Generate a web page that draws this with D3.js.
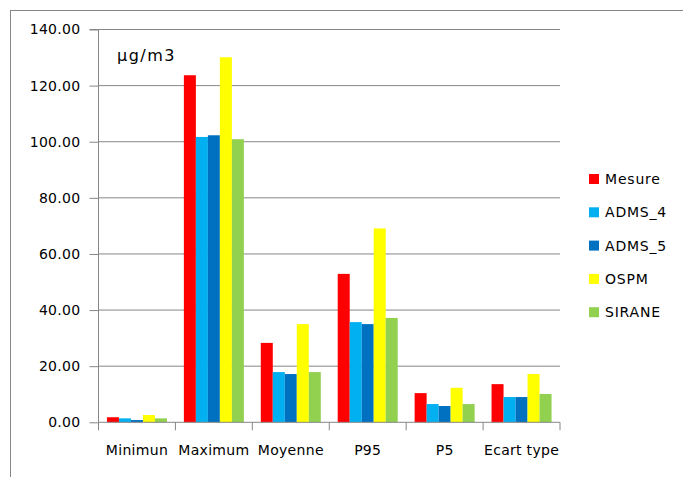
<!DOCTYPE html>
<html><head><meta charset="utf-8">
<script src="https://cdn.jsdelivr.net/npm/d3@7"></script>
<style>
body{margin:0;background:#fff;}
svg{display:block;font-family:"DejaVu Sans",sans-serif;}
</style></head>
<body><svg id="c" width="683" height="477"></svg>
<script>
const categories = ["Minimun","Maximum","Moyenne","P95","P5","Ecart type"];
const seriesNames = ["Mesure","ADMS_4","ADMS_5","OSPM","SIRANE"];
const colors = ["#ff0000","#00b0f0","#0070c0","#ffff00","#92d050"];
const mesure = [1.8,123.7,28.3,52.9,10.4,13.6];
const adms4  = [1.4,101.7,17.9,35.7,6.5,9.0];
const adms5  = [0.8,102.3,17.2,35.0,5.8,9.0];
const ospm   = [2.6,130.1,35.0,69.1,12.3,17.2];
const sirane = [1.4,100.9,17.9,37.2,6.5,10.1];
const yTicks = [0,20,40,60,80,100,120,140];
const unitLabel = "µg/m3";
const seriesValues = [mesure,adms4,adms5,ospm,sirane];

const svg = d3.select("#c");
// outer frame (only top/left visible)
svg.append("rect").attr("x",10.5).attr("y",10.5).attr("width",700).attr("height",500)
  .attr("fill","none").attr("stroke","#868686").attr("stroke-width",1);

const L=98.5, R=560, T=29.5, B=422.3;
const x0 = d3.scaleBand().domain(categories).range([L,R]).padding(0);
const x1 = d3.scaleBand().domain(seriesNames).range([x0.bandwidth()*0.11, x0.bandwidth()*0.89]).padding(0);
const y = d3.scaleLinear().domain([0,140]).range([B,T]);

// gridlines
svg.append("g").selectAll("line").data(yTicks.filter(d=>d>0)).join("line")
  .attr("x1",L).attr("x2",R).attr("y1",d=>y(d)).attr("y2",d=>y(d))
  .attr("stroke","#868686").attr("stroke-width",1);

// bars
const g = svg.append("g");
categories.forEach((c,ci)=>{
  seriesNames.forEach((s,si)=>{
    const v = seriesValues[si][ci];
    g.append("rect").attr("x",x0(c)+x1(s)).attr("width",x1.bandwidth())
      .attr("y",y(v)).attr("height",B-y(v)).attr("fill",colors[si]);
  });
});

// y axis
const yAxis = d3.axisLeft(y).tickValues(yTicks).tickFormat(d3.format(".2f")).tickSize(9).tickPadding(9);
const ya = svg.append("g").attr("transform",`translate(${L},0)`).call(yAxis);
ya.selectAll("path,line").attr("stroke","#868686");
ya.select(".domain").attr("d",`M-9,${T}H0V${B}`);
ya.selectAll("text").attr("font-size",14).attr("fill","#000").attr("font-family","DejaVu Sans").attr("letter-spacing",0.3);

// x axis
const xAxis = d3.axisBottom(x0).tickSize(0).tickPadding(23);
const xa = svg.append("g").attr("transform",`translate(0,${B})`).call(xAxis);
xa.select(".domain").attr("d",`M${L},0H${R}`).attr("stroke","#868686");
xa.selectAll("text").attr("font-size",14).attr("fill","#000").attr("font-family","DejaVu Sans").attr("letter-spacing",0.3);
// category boundary ticks
const bounds = categories.map(c=>x0(c)).concat([R]);
xa.append("g").selectAll("line").data(bounds).join("line")
  .attr("x1",d=>d).attr("x2",d=>d).attr("y1",0).attr("y2",8).attr("stroke","#868686");

// unit label
svg.append("text").attr("x",117).attr("y",61).attr("font-size",16).attr("letter-spacing",1.5)
  .attr("fill","#000").text(unitLabel);

// legend
const lg = svg.append("g");
seriesNames.forEach((s,i)=>{
  const yy = 174 + i*33.3;
  lg.append("rect").attr("x",589).attr("y",yy).attr("width",10).attr("height",10).attr("fill",colors[i]);
  lg.append("text").attr("x",605).attr("y",yy+10).attr("font-size",14).attr("fill","#000").attr("letter-spacing",0.8).text(s);
});
</script></body></html>
